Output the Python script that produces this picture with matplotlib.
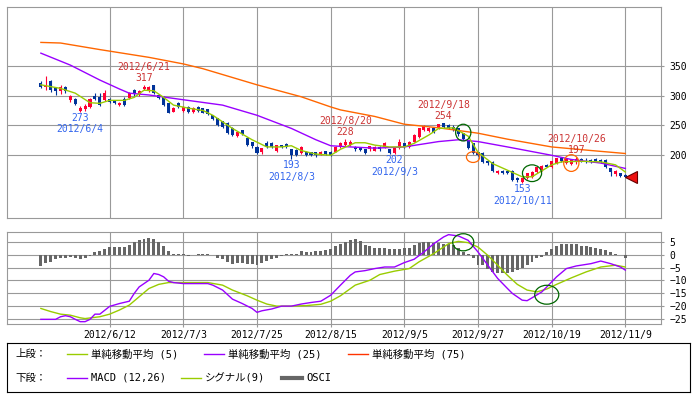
import numpy as np
import pandas as pd
import matplotlib
matplotlib.use('Agg')
import matplotlib.pyplot as plt
from matplotlib.patches import Ellipse

plt.rcParams['font.family'] = ['DejaVu Sans Mono', 'Noto Sans CJK JP']

# trading days (TSE calendar, 2012/5/23 - 2012/11/9)
holidays = ['2012-07-16', '2012-09-17', '2012-10-08']
days = pd.bdate_range('2012-05-23', '2012-11-09', freq='C', holidays=holidays)
day_labels = [f'{d.year}/{d.month}/{d.day}' for d in days]
pos = {lab: k for k, lab in enumerate(day_labels)}

# daily prices
open_ = [321, 314, 324, 313, 307, 314, 292, 294, 275, 277, 281, 299, 298, 293, 294, 291, 284, 295, 296, 309,
         302, 311, 309, 318, 301, 298, 287, 273, 287, 274, 281, 272, 281, 279, 277, 267, 262, 257, 254, 246,
         232, 242, 229, 222, 214, 205, 220, 220, 207, 217, 219, 210, 209, 204, 205, 205, 205, 202, 207, 206,
         206, 214, 217, 218, 214, 213, 210, 210, 208, 214, 214, 210, 204, 212, 220, 214, 223, 230, 242, 241,
         246, 245, 254, 250, 248, 245, 237, 225, 220, 205, 204, 190, 189, 170, 174, 174, 174, 162, 155, 162,
         164, 172, 175, 184, 180, 187, 195, 187, 186, 188, 194, 190, 192, 194, 192, 192, 178, 169, 170, 167]
high = [324, 333, 326, 315, 317, 316, 301, 296, 282, 286, 296, 304, 304, 310, 296, 293, 290, 297, 306, 311,
        309, 317, 316, 318, 303, 300, 288, 281, 289, 283, 282, 281, 283, 280, 278, 268, 263, 258, 255, 247,
        240, 243, 230, 223, 215, 213, 224, 222, 218, 218, 220, 211, 210, 216, 207, 206, 206, 207, 208, 207,
        215, 223, 228, 225, 216, 214, 211, 216, 215, 215, 222, 211, 213, 228, 221, 224, 235, 246, 250, 247,
        248, 253, 254, 252, 250, 246, 238, 226, 221, 206, 205, 191, 190, 175, 175, 176, 175, 163, 163, 171,
        173, 181, 183, 185, 191, 196, 196, 194, 193, 197, 195, 196, 193, 195, 193, 193, 179, 175, 171, 168]
low = [312, 310, 306, 301, 303, 304, 290, 284, 273, 275, 279, 292, 283, 291, 287, 286, 282, 282, 295, 300,
       300, 309, 306, 302, 294, 282, 270, 272, 279, 273, 270, 271, 273, 270, 268, 259, 249, 246, 235, 232,
       230, 234, 215, 213, 202, 203, 212, 213, 205, 213, 212, 193, 198, 202, 198, 199, 197, 200, 200, 199,
       205, 212, 215, 216, 208, 207, 203, 208, 207, 208, 212, 203, 202, 211, 212, 212, 222, 229, 240, 239,
       238, 244, 245, 244, 241, 233, 225, 210, 202, 199, 187, 183, 172, 169, 168, 168, 157, 156, 153, 160,
       162, 170, 174, 180, 178, 185, 188, 186, 184, 186, 188, 187, 187, 189, 187, 178, 166, 166, 164, 163]
close = [315, 317, 309, 308, 315, 307, 299, 286, 280, 282, 294, 294, 284, 304, 289, 288, 288, 284, 304, 302,
         307, 315, 315, 304, 296, 284, 271, 280, 281, 281, 272, 279, 274, 271, 269, 261, 251, 248, 237, 234,
         239, 236, 217, 215, 204, 212, 214, 214, 217, 214, 214, 200, 200, 214, 200, 201, 201, 205, 202, 200,
         214, 221, 223, 222, 210, 209, 204, 215, 214, 210, 221, 204, 212, 223, 214, 223, 234, 245, 249, 245,
         239, 252, 247, 245, 243, 235, 227, 212, 204, 201, 189, 187, 174, 174, 170, 170, 159, 158, 162, 170,
         172, 180, 182, 181, 190, 195, 190, 193, 192, 194, 189, 189, 189, 191, 189, 180, 172, 174, 165, 164]

# moving averages (trading-day number, value)
ma5_day = [0, 4, 7, 10, 12, 14, 17, 19, 21, 23, 25, 27, 30, 33, 35, 39, 43, 46, 49, 51, 53, 56, 59, 61, 64,
           66, 68, 71, 74, 76, 79, 81, 84, 87, 89, 92, 95, 98, 100, 102, 104, 106, 110, 114, 117, 119]
ma5_val = [318, 312, 304, 288, 287, 292, 292, 297, 309, 308, 297, 284, 279, 275, 267, 245, 226, 214, 214, 216,
           208, 202, 200, 210, 221, 221, 217, 214, 214, 220, 234, 245, 246, 232, 205, 186, 175, 164, 164, 174,
           184, 189, 190, 189, 184, 172]
ma25_day = [0, 6, 12, 16, 18, 22, 29, 37, 44, 51, 56, 59, 63, 68, 74, 81, 85, 89, 95, 104, 108, 114, 119]
ma25_val = [371, 351, 326, 311, 304, 301, 293, 284, 267, 245, 226, 216, 214, 212, 214, 223, 226, 223, 214,
            200, 193, 187, 178]
ma75_day = [0, 4, 12, 22, 29, 33, 44, 53, 59, 61, 68, 74, 81, 89, 95, 104, 112, 119]
ma75_val = [389, 388, 377, 364, 353, 345, 318, 298, 281, 276, 265, 252, 246, 237, 227, 214, 208, 203]

# MACD panel
macd_day = [0, 3, 4, 5, 6, 7, 8, 9, 10, 11, 12, 14, 16, 18, 19, 20, 22, 23, 24, 25, 26, 27, 29, 31, 34, 35,
            37, 39, 41, 43, 44, 45, 47, 49, 51, 53, 55, 57, 59, 61, 63, 64, 66, 68, 70, 72, 74, 76, 78, 80,
            82, 83, 85, 87, 89, 91, 93, 95, 96, 98, 99, 100, 102, 103, 105, 107, 109, 112, 114, 116, 118, 119]
macd_val = [-25, -25, -24, -23.6, -24, -25, -25.9, -25.9, -25, -23, -23, -20, -18.9, -18, -15, -12.5, -9.9,
            -7.3, -7.7, -8.6, -10.3, -10.8, -11.2, -11.2, -11.2, -11.8, -13.7, -17.2, -18.9, -20.8, -22.3,
            -21.7, -21, -19.9, -19.9, -19.1, -18.5, -18, -15.7, -11.8, -8, -6.7, -6.2, -5.4, -4.8, -4.8, -3.1,
            -1.8, 1, 4.2, 6.8, 7.7, 7.2, 5.5, 1, -4.1, -9.2, -13.1, -15, -17.6, -17.8, -16.7, -14.4, -12.5,
            -8.6, -5.4, -4.4, -3.5, -2.5, -3.5, -4.8, -6]
signal_day = [0, 2, 4, 6, 8, 9, 12, 14, 16, 18, 20, 22, 24, 26, 30, 34, 37, 39, 42, 44, 46, 48, 51, 54, 57,
              59, 61, 64, 67, 69, 72, 75, 77, 80, 83, 85, 87, 89, 91, 93, 95, 97, 99, 101, 103, 105, 108,
              111, 114, 117, 119]
signal_val = [-20.8, -22, -23, -23.4, -24.4, -24.7, -24, -23, -21.4, -19.5, -16.3, -13.1, -11.5, -10.8,
              -10.8, -10.8, -11.8, -13.7, -15.9, -17.6, -19.1, -19.9, -19.9, -19.7, -19.2, -18, -15.9, -11.8,
              -9.9, -7.7, -6.4, -5.4, -2.8, 0.4, 4.2, 5.1, 4.6, 2.9, -0.3, -4.1, -8, -11.5, -13.7, -14.4,
              -13.3, -11.5, -9, -6.7, -4.8, -4.1, -4.8]
osci = [-4.4, -3.2, -2.8, -1.9, -1.3, -1.2, -1.0, -1.3, -1.7, -1.5,
        -0.6, 1.0, 1.3, 2.3, 2.8, 2.8, 2.8, 2.8, 3.6, 4.9,
        5.5, 6.2, 6.5, 5.9, 4.9, 3.3, 1.3, 0.4, 0.4, 0.1,
        -0.5, -0.3, 0.4, 0.1, 0.1, -0.3, -1.2, -1.9, -2.8, -3.5,
        -3.1, -3.1, -3.7, -3.7, -4.1, -3.2, -2.4, -1.8, -1.2, -0.6,
        0.2, 0.1, 0.3, 1.3, 1.0, 1.0, 1.3, 1.4, 1.9, 2.3,
        3.2, 4.2, 4.9, 5.5, 5.9, 5.1, 3.6, 3.3, 2.7, 2.7,
        2.7, 2.0, 2.3, 2.3, 2.6, 2.6, 3.6, 4.6, 4.9, 4.9,
        4.6, 4.6, 4.2, 4.2, 3.6, 2.6, 1.0, 0.4, -1.5, -3.9,
        -4.1, -5.4, -6.7, -7.3, -7.3, -7.3, -6.7, -6.1, -5.2, -4.1,
        -2.8, -1.5, -0.9, 1.0, 2.3, 3.3, 4.2, 4.2, 4.2, 3.9,
        3.3, 3.3, 2.9, 2.7, 2.3, 1.9, 1.0, 0.4, -0.3, -1.5]

tick_dates = ['2012/6/12', '2012/7/3', '2012/7/25', '2012/8/15', '2012/9/5', '2012/9/27',
              '2012/10/19', '2012/11/9']
peak_dates = ['2012/6/21', '2012/8/20', '2012/9/18', '2012/10/26']
peak_vals = [317, 228, 254, 197]
trough_dates = ['2012/6/4', '2012/8/3', '2012/9/3', '2012/10/11']
trough_vals = [273, 193, 202, 153]

# crossover marks: (date, value, width in days, height in value units, colour)
price_marks = [('2012/9/24', 238, 3.1, 28, '#006600'), ('2012/9/26', 197, 2.7, 18, '#ff6600'),
               ('2012/10/15', 170, 3.9, 28, '#006600'), ('2012/10/25', 187, 3.1, 28, '#ff6600')]
macd_marks = [('2012/9/24', 4.75, 4.3, 6.6, '#006600'), ('2012/10/18', -15.5, 4.9, 7.3, '#006600')]

RED, BLUE = '#ff0033', '#003399'
C5, C25, C75 = '#99cc00', '#9900ff', '#ff6600'
GRID = '#999999'

W, H = 696, 395
def box(l, t, r, b):
    return [l / W, 1 - b / H, (r - l) / W, (b - t) / H]

fig = plt.figure(figsize=(6.96, 3.95), dpi=100)
ax = fig.add_axes(box(7, 7.3, 660.7, 218.3))
ax2 = fig.add_axes(box(7, 232.3, 660.7, 324))
axl = fig.add_axes(box(7, 342.5, 690, 391.5))

x = np.arange(len(days))
o, hi, lo, c = (np.array(v, dtype=float) for v in (open_, high, low, close))
col = np.where(c >= o, RED, BLUE)
ticks = [pos[d] for d in tick_dates]

# price panel
ax.vlines(x, lo, hi, colors=col, lw=0.8, zorder=3)
ax.bar(x, np.maximum(np.abs(c - o), 1.2), bottom=np.minimum(o, c), width=0.62, color=col, zorder=3)
ax.plot(ma75_day, ma75_val, color=C75, lw=1.0, zorder=4)
ax.plot(ma25_day, ma25_val, color=C25, lw=1.0, zorder=4)
ax.plot(ma5_day, ma5_val, color=C5, lw=1.0, zorder=4)

for d, v in zip(peak_dates, peak_vals):
    ax.annotate(str(v), (pos[d], v), xytext=(0, 5), textcoords='offset points',
                ha='center', va='center', fontsize=7, color='#cc3333', zorder=6)
    ax.annotate(d, (pos[d], v), xytext=(0, 13), textcoords='offset points',
                ha='center', va='center', fontsize=7, color='#cc3333', zorder=6)
for d, v in zip(trough_dates, trough_vals):
    ax.annotate(str(v), (pos[d], v), xytext=(0, -4.3), textcoords='offset points',
                ha='center', va='center', fontsize=7, color='#3366ee', zorder=6)
    ax.annotate(d, (pos[d], v), xytext=(0, -12.6), textcoords='offset points',
                ha='center', va='center', fontsize=7, color='#3366ee', zorder=6)

for d, v, w, h, ec in price_marks:
    ax.add_patch(Ellipse((pos[d], v), w, h, fill=False, ec=ec, lw=0.9, zorder=7))
ax.plot(len(days) - 1 + 1.25, close[-1], marker='<', ms=9, mfc='#ee1111', mec='#660000', mew=0.8, zorder=8)

ax.set_xlim(-6.9, 126.2)
ax.set_ylim(94.5, 447.8)
ax.set_yticks([200, 250, 300, 350])
ax.set_xticks(ticks)
ax.set_xticklabels([])
ax.yaxis.tick_right()
ax.tick_params(axis='y', direction='out', length=2.5, width=0.8, color=GRID, pad=4, labelsize=7)
ax.tick_params(axis='x', length=0)

# MACD panel
ax2.bar(x, osci, width=0.6, color='#666666', zorder=3)
ax2.plot(signal_day, signal_val, color=C5, lw=1.0, zorder=4)
ax2.plot(macd_day, macd_val, color=C25, lw=1.0, zorder=4)
for d, v, w, h, ec in macd_marks:
    ax2.add_patch(Ellipse((pos[d], v), w, h, fill=False, ec=ec, lw=0.9, zorder=7))
ax2.set_xlim(-6.9, 126.2)
ax2.set_ylim(-26.8, 8.6)
ax2.set_yticks([5, 0, -5, -10, -15, -20, -25])
ax2.set_xticks(ticks)
ax2.set_xticklabels(tick_dates)
ax2.yaxis.tick_right()
ax2.tick_params(direction='out', length=2.5, width=0.8, color=GRID, pad=2, labelsize=7)
ax2.tick_params(axis='y', pad=4)

for a in (ax, ax2):
    a.grid(True, color=GRID, lw=0.8)
    a.set_axisbelow(True)
    for s in a.spines.values():
        s.set_color(GRID)
        s.set_linewidth(0.8)

# legend box
axl.set_xlim(0, 683)
axl.set_ylim(49, 0)
axl.set_xticks([])
axl.set_yticks([])
for s in axl.spines.values():
    s.set_color('black')
    s.set_linewidth(0.8)
row1, row2 = 11.5, 35.5
axl.text(8, row1, '上段：', va='center', fontsize=7.5)
axl.text(8, row2, '下段：', va='center', fontsize=7.5)
items = [(row1, 60, C5, 1.0, '単純移動平均 (5)'), (row1, 197, C25, 1.0, '単純移動平均 (25)'),
         (row1, 341, '#ff3300', 1.0, '単純移動平均 (75)'),
         (row2, 60, C25, 1.0, 'MACD (12,26)'), (row2, 174, C5, 1.0, 'シグナル(9)'),
         (row2, 275, '#666666', 3.0, 'OSCI')]
for yy, x0, cc, lw, txt in items:
    axl.plot([x0, x0 + 20], [yy, yy], color=cc, lw=lw)
    axl.text(x0 + 24, yy, txt, va='center', fontsize=7.5)

fig.savefig('out.png', dpi=100)
